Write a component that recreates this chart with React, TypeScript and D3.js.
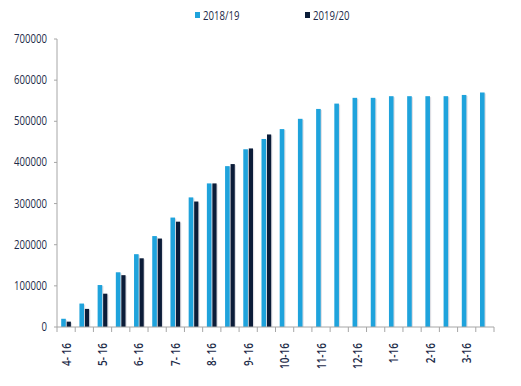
import React from "react";
import * as d3 from "d3";

const categories = ["4-16","4-16b","5-16","5-16b","6-16","6-16b","7-16","7-16b","8-16","8-16b","9-16","9-16b","10-16","10-16b","11-16","11-16b","12-16","12-16b","1-16","1-16b","2-16","2-16b","3-16","3-16b"];
const tickLabels = ["4- 16","","5- 16","","6- 16","","7- 16","","8- 16","","9- 16","","10-16","","11-16","","12-16","","1-16","","2-16","","3-16",""];
const series1819 = [20000,57000,102000,133000,177000,221000,266000,315000,349000,391000,432000,457000,481000,506000,530000,543000,557000,557000,561000,561000,561000,561000,564000,570000];
const series1920 = [13000,44000,81000,126000,167000,215000,256000,305000,349000,396000,434000,468000];
const yTicks = [0,100000,200000,300000,400000,500000,600000,700000];
const seriesNames = ["2018/19","2019/20"];
const colors = ["#1fa3dc","#0b1c38"];

export default function App() {
  const W = 521, H = 386;
  const x0 = 57, x1 = 494, yTop = 39, yBot = 327;
  const x = d3.scaleBand<string>().domain(categories).range([x0, x1]).paddingInner(0).paddingOuter(0);
  const y = d3.scaleLinear().domain([0, 700000]).range([yBot, yTop]);
  const bw = x.bandwidth();
  const barW = 4.6;
  const font = "'Open Sans', sans-serif";
  const textColor = "#1c2a48";
  const sx = 0.8;
  return (
    <svg width={W} height={H} style={{ position: "absolute", left: 0, top: 0, background: "#fff" }} fontFamily={font}>
      {/* legend */}
      {seriesNames.map((n, i) => (
        <g key={n} transform={`translate(${195 + i * 110},0)`}>
          <rect x={0} y={12} width={5} height={6} fill={colors[i]} />
          <text transform={`translate(8,19.5) scale(${sx},1)`} fontSize={12} fill={textColor}>{n}</text>
        </g>
      ))}
      {/* y axis */}
      <line x1={x0} x2={x0} y1={yTop} y2={yBot} stroke="#a6a6a6" strokeWidth={1} />
      {yTicks.map(t => (
        <g key={t}>
          <line x1={x0 - 3} x2={x0} y1={y(t)} y2={y(t)} stroke="#a6a6a6" />
          <text transform={`translate(47,${y(t) + 4}) scale(${sx},1)`} textAnchor="end" fontSize={12} fill={textColor}>{t}</text>
        </g>
      ))}
      {/* bars */}
      {series1819.map((v, i) => {
        const cx = (x(categories[i]) as number) + bw / 2;
        const bx = cx - barW - 0.3;
        return (
          <g key={"a" + i}>
            <rect x={bx + 1.2} y={y(v) + 1} width={barW} height={yBot - y(v) - 1} fill="#c9c9d2" opacity={0.6} />
            <rect x={bx} y={y(v)} width={barW} height={yBot - y(v)} fill={colors[0]} />
          </g>
        );
      })}
      {series1920.map((v, i) => {
        const cx = (x(categories[i]) as number) + bw / 2;
        const bx = cx + 0.6;
        return (
          <g key={"b" + i}>
            <rect x={bx + 1.2} y={y(v) + 1} width={barW - 0.4} height={yBot - y(v) - 1} fill="#c9c9d2" opacity={0.6} />
            <rect x={bx} y={y(v)} width={barW - 0.4} height={yBot - y(v)} fill={colors[1]} />
          </g>
        );
      })}
      {/* x axis */}
      <line x1={x0} x2={x1} y1={yBot} y2={yBot} stroke="#a6a6a6" strokeWidth={1} />
      {categories.map((c, i) => (
        <line key={"t" + i} x1={(x(c) as number)} x2={(x(c) as number)} y1={yBot} y2={yBot + 5} stroke="#a6a6a6" />
      ))}
      <line x1={x1} x2={x1} y1={yBot} y2={yBot + 5} stroke="#a6a6a6" />
      {categories.map((c, i) => tickLabels[i] ? (
        <text key={"l" + i} transform={`translate(${(x(c) as number) + bw / 2 + 4.5},${yBot + 16}) rotate(-90) scale(${sx},1)`} textAnchor="end" fontSize={12.5} fontWeight={600} fill={textColor}>{tickLabels[i]}</text>
      ) : null)}
    </svg>
  );
}
